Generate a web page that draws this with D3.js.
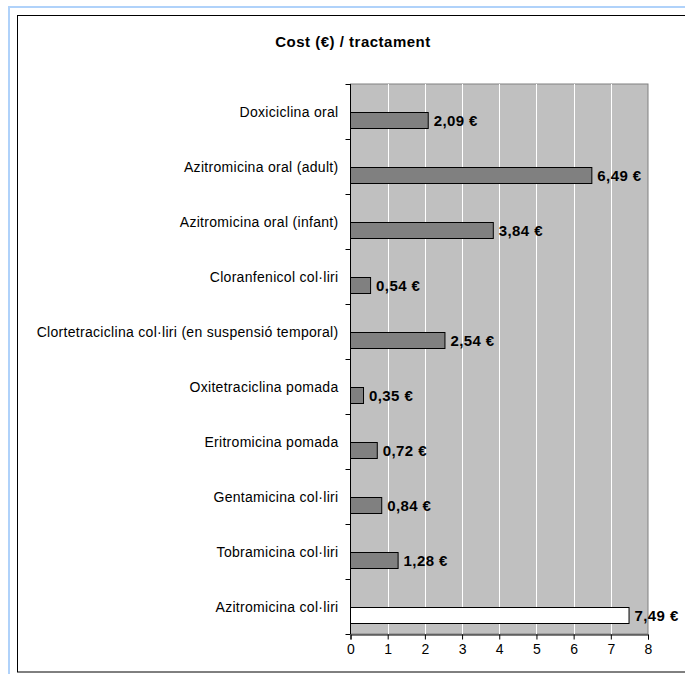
<!DOCTYPE html>
<html>
<head>
<meta charset="utf-8">
<script src="https://cdn.jsdelivr.net/npm/d3@7"></script>
<style>
body { margin: 0; background: #fff; overflow: hidden; }
svg { display: block; }
</style>
</head>
<body>
<script>
var categories = [
    "Doxiciclina oral",
    "Azitromicina oral (adult)",
    "Azitromicina oral (infant)",
    "Cloranfenicol col·liri",
    "Clortetraciclina col·liri (en suspensió temporal)",
    "Oxitetraciclina pomada",
    "Eritromicina pomada",
    "Gentamicina col·liri",
    "Tobramicina col·liri",
    "Azitromicina col·liri"
];
var costs = [2.09, 6.49, 3.84, 0.54, 2.54, 0.35, 0.72, 0.84, 1.28, 7.49];
var highlight = [false, false, false, false, false, false, false, false, false, true];
var xTicks = [0, 1, 2, 3, 4, 5, 6, 7, 8];

var width = 685, height = 674;
var plot = {left: 350.5, right: 648, top: 84, bottom: 634};
var font = "Liberation Sans, Arial, sans-serif";

var svg = d3.select("body")
    .append("svg")
    .attr("width", width)
    .attr("height", height);

// outer frames
svg.append("rect")
    .attr("x", 9).attr("y", 7)
    .attr("width", 690).attr("height", 680)
    .attr("fill", "none")
    .attr("stroke", "#b0d2fa")
    .attr("stroke-width", 2);

svg.append("rect")
    .attr("x", 17.5).attr("y", 15.5)
    .attr("width", 690).attr("height", 656.5)
    .attr("fill", "#fff")
    .attr("stroke", "#000")
    .attr("stroke-width", 1);

svg.append("text")
    .attr("x", 353)
    .attr("y", 47)
    .attr("text-anchor", "middle")
    .attr("font-family", font)
    .attr("font-size", 15)
    .attr("font-weight", "bold")
    .attr("letter-spacing", 0.5)
    .text("Cost (€) / tractament");

var x = d3.scaleLinear()
    .domain([0, 8])
    .range([plot.left, plot.right]);

var y = d3.scaleBand()
    .domain(categories)
    .range([plot.top, plot.bottom]);

// plot background
svg.append("rect")
    .attr("x", plot.left)
    .attr("y", plot.top)
    .attr("width", plot.right - plot.left)
    .attr("height", plot.bottom - plot.top)
    .attr("fill", "#c0c0c0")
    .attr("stroke", "#808080")
    .attr("stroke-width", 1);

// gridlines
svg.selectAll(".grid")
    .data(xTicks.slice(1, -1))
    .enter()
    .append("line")
    .attr("x1", function(d) { return Math.round(x(d)) + 0.5; })
    .attr("x2", function(d) { return Math.round(x(d)) + 0.5; })
    .attr("y1", plot.top)
    .attr("y2", plot.bottom)
    .attr("stroke", "#fff")
    .attr("stroke-width", 1);

// bars (sit in the lower half of each band)
var bw = y.bandwidth();
svg.selectAll(".bar")
    .data(costs)
    .enter()
    .append("rect")
    .attr("class", "bar")
    .attr("x", x(0))
    .attr("y", function(d, i) { return Math.round(y(categories[i]) + bw * 0.51) + 0.5; })
    .attr("width", function(d) { return x(d) - x(0); })
    .attr("height", 16)
    .attr("fill", function(d, i) { return highlight[i] ? "#fff" : "#808080"; })
    .attr("stroke", "#000")
    .attr("stroke-width", 1);

svg.selectAll(".val")
    .data(costs)
    .enter()
    .append("text")
    .attr("x", function(d) { return x(d) + 5.5; })
    .attr("y", function(d, i) { return y(categories[i]) + bw * 0.51 + 13.5; })
    .attr("font-family", font)
    .attr("font-size", 15)
    .attr("font-weight", "bold")
    .attr("letter-spacing", 0.4)
    .text(function(d) { return d.toFixed(2).replace(".", ",") + " €"; });

// y axis
var yAxis = svg.append("g")
    .attr("transform", "translate(" + plot.left + ",0)");
yAxis.append("line")
    .attr("x1", 0).attr("x2", 0)
    .attr("y1", plot.top).attr("y2", plot.bottom)
    .attr("stroke", "#000");
yAxis.selectAll(".ytick")
    .data(d3.range(categories.length + 1))
    .enter()
    .append("line")
    .attr("x1", -5).attr("x2", 0)
    .attr("y1", function(i) { return Math.round(plot.top + i * bw) + 0.5; })
    .attr("y2", function(i) { return Math.round(plot.top + i * bw) + 0.5; })
    .attr("stroke", "#000");
yAxis.selectAll(".ylab")
    .data(categories)
    .enter()
    .append("text")
    .attr("x", -12)
    .attr("y", function(d) { return y(d) + bw / 2 + 5; })
    .attr("text-anchor", "end")
    .attr("font-family", font)
    .attr("font-size", 14)
    .attr("letter-spacing", 0.3)
    .text(function(d) { return d; });

// x axis
var xAxis = d3.axisBottom(x)
    .tickValues(xTicks)
    .tickSize(5)
    .tickPadding(5)
    .tickFormat(d3.format("d"));

var gx = svg.append("g")
    .attr("transform", "translate(0," + (plot.bottom + 0.5) + ")")
    .call(xAxis);
gx.select(".domain").attr("stroke", "#000");
gx.selectAll("text")
    .attr("font-family", font)
    .attr("font-size", 14)
    .attr("fill", "#000");
</script>
</body>
</html>
